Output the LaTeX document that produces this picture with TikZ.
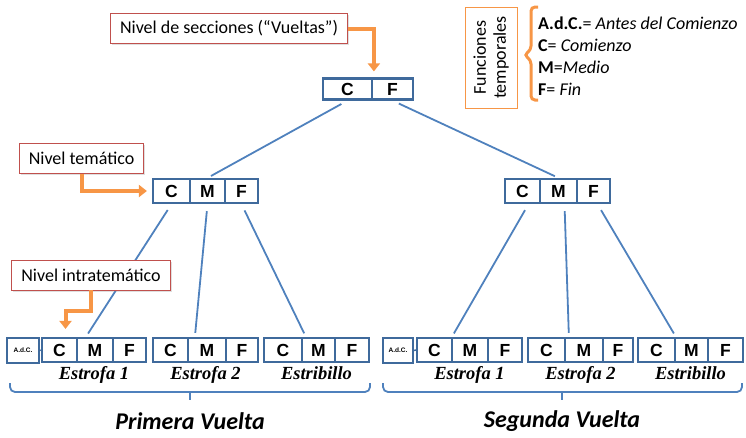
\documentclass[tikz,border=0pt]{standalone}
\usepackage{fontspec}
\setmainfont{Carlito}
\newfontfamily\cellfont{Liberation Sans}
\newfontfamily\strofefont{Liberation Serif}
\usepackage{xcolor}
\definecolor{boxedge}{HTML}{3F6A9C}
\definecolor{linkblue}{HTML}{4F81BD}
\definecolor{orangeacc}{HTML}{F79646}
\definecolor{labeledge}{HTML}{C0504D}
\usepackage{tikz}
\usetikzlibrary{arrows.meta, positioning, calc, shadows}

\begin{document}
\begin{tikzpicture}[
  x=1pt, y=-1pt,
  cell/.style={
    draw=boxedge, line width=2.2pt, fill=white, inner sep=0pt,
    minimum height=24pt, text height=12.5pt, text depth=0pt,
    font=\cellfont\bfseries\fontsize{17.5}{17.5}\selectfont
  },
  adcbox/.style={
    draw=boxedge, line width=2.2pt, fill=white, inner sep=0pt,
    minimum width=32pt, minimum height=25pt,
    font=\cellfont\bfseries\fontsize{6.5}{7}\selectfont
  },
  levellabel/.style={
    draw=labeledge, line width=0.8pt, fill=white, inner xsep=9.5pt,
    minimum height=30pt, font=\fontsize{18}{20}\selectfont,
    drop shadow={shadow xshift=1.5pt, shadow yshift=-1.5pt, opacity=0.25}
  },
  link/.style={linkblue, line width=1.8pt, shorten <=7pt, shorten >=4pt},
  pointer/.style={
    orangeacc, line width=4pt, shorten >=6pt,
    -{Triangle[width=12pt, length=8pt]}
  },
  span/.style={linkblue, line width=1.8pt, rounded corners=5pt},
  strofe/.style={anchor=base, font=\strofefont\bfseries\itshape\fontsize{18.5}{18.5}\selectfont},
  vuelta/.style={font=\bfseries\itshape\fontsize{24}{26}\selectfont}
]
  \useasboundingbox (0,0) rectangle (746,437);

  % sections level
  \node[cell, minimum width=49, minimum height=21] (tC) at (347.5,89) {C};
  \node[cell, minimum width=41, minimum height=21] (tF) at (392.5,89) {F};

  % thematic level
  \node[cell, minimum width=37] (mlC) at (171.5,191) {C};
  \node[cell, minimum width=35] (mlM) at (207.5,191) {M};
  \node[cell, minimum width=33] (mlF) at (241.5,191) {F};
  \node[cell, minimum width=35] (mrC) at (522.5,191) {C};
  \node[cell, minimum width=37] (mrM) at (558.5,191) {M};
  \node[cell, minimum width=33] (mrF) at (593.5,191) {F};

  % intrathematic level
  \foreach \g/\xa/\xb/\xc/\xd/\txt in {pe1/42/77/113/146/Estrofa 1,
      pe2/153/188/226/258/Estrofa 2, pes/264/302/335/369/Estribillo,
      se1/417/452/488/522/Estrofa 1, se2/528/565/603/633/Estrofa 2,
      ses/638/675/708/743/Estribillo} {
    \node[cell, minimum width={\xb-\xa}] (\g-c) at ({(\xa+\xb)/2},350) {C};
    \node[cell, minimum width={\xc-\xb}] (\g-m) at ({(\xb+\xc)/2},350) {M};
    \node[cell, minimum width={\xd-\xc}] (\g-f) at ({(\xc+\xd)/2},350) {F};
    \node[strofe] (\g-lab) at ({(\xa+\xd)/2},379) {\txt};
  }
  \node[adcbox] (adc1) at (23,350.5) {A.d.C.};
  \node[adcbox, minimum width=30] (adc2) at (398,350.5) {A.d.C.};
  \draw[boxedge, line width=1.5pt] (adc1.east) -- (pe1-c.west);
  \draw[boxedge, line width=1.5pt] (adc2.east) -- (se1-c.west);

  % tree
  \draw[link] (tC.south) -- (mlM.north);
  \draw[link] (tF.south) -- (mrM.north);
  \draw[link] (mlC.south) -- ([xshift=10pt]pe1-m.north west);
  \draw[link] (mlM.south) -- ([xshift=8pt]pe2-m.north west);
  \draw[link] (mlF.south) -- ([xshift=5pt]pes-m.north west);
  \draw[link] ([xshift=6pt]mrC.south) -- ([xshift=1pt]se1-m.north west);
  \draw[link] ([xshift=6pt]mrM.south) -- ([xshift=5pt]se2-m.north west);
  \draw[link] ([xshift=4pt]mrF.south) -- ([xshift=2pt]ses-m.north west);

  % braces under each turn
  \draw[span] (10,383) |- (370,392) -- (370,383);
  \draw[span] (190,392) -- (190,400);
  \draw[span] (383,383) |- (742,392) -- (742,383);
  \draw[span] (562,392) -- (562,400);
  \node[vuelta] (v1) at (190,421) {Primera Vuelta};
  \node[vuelta] (v2) at (562,421) {Segunda Vuelta};

  % level labels
  \node[levellabel] (lblsec) at (229,28.5) {Nivel de secciones (“Vueltas”)};
  \node[levellabel] (lbltem) at (81.5,158.5) {Nivel temático};
  \node[levellabel] (lblint) at (91,275) {Nivel intratemático};
  \draw[pointer] (lblsec.east) -| ([xshift=3pt]tF.north west);
  \draw[pointer, shorten >=5pt] (lbltem.south) |- (mlC.west);
  \draw[pointer, shorten >=8pt] (lblint.south) -- ++(0,21)
    -| ([xshift=6pt]pe1-c.north);

  % temporal functions
  \node[draw=orangeacc, line width=0.8pt, fill=white, rotate=90,
        minimum width=101, minimum height=52, align=center,
        font=\fontsize{18}{20}\selectfont] (fn) at (491,57.5)
    {Funciones\\temporales};
  \draw[orangeacc, line width=3pt, rounded corners=4pt]
    (538,7) -| (531,50) -- (524,55) -- (531,60) |- (538,100);
  \node[anchor=west, align=left, inner sep=0pt,
        font=\fontsize{18}{22}\selectfont] (fnlist) at (538,56)
    {\textbf{A.d.C.}= \textit{Antes del Comienzo}\\
     \textbf{C}= \textit{Comienzo}\\
     \textbf{M}=\textit{Medio}\\
     \textbf{F}= \textit{Fin}};
\end{tikzpicture}
\end{document}
